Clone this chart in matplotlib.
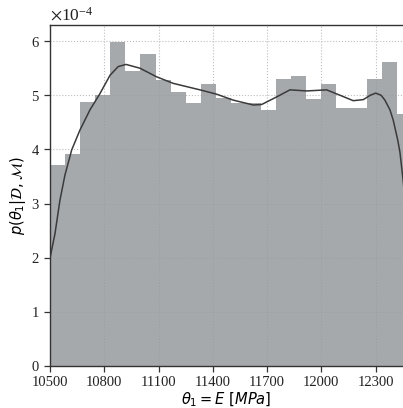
import numpy as np
import matplotlib
matplotlib.use("Agg")
import matplotlib.pyplot as plt

# posterior samples summarised as histogram densities (x 1e-4), 24 bins over the prior 10500-12500
bin_lo = 10500
bin_hi = 12500
n_bins = 24
density = [3.71, 3.91, 4.88, 5.00, 5.99, 5.44, 5.76, 5.28, 5.06, 4.85, 5.21, 4.95,
           4.86, 4.86, 4.73, 5.30, 5.36, 4.93, 5.20, 4.76, 4.77, 5.30, 5.61, 4.65]

# kernel density estimate
kde_x = [10500, 10528, 10555, 10583, 10620, 10666, 10721, 10776, 10832, 10877, 10920,
         10997, 11090, 11181, 11329, 11421, 11513, 11624, 11670, 11753, 11826, 11919,
         12029, 12103, 12176, 12232, 12270, 12300, 12330, 12351, 12379, 12397, 12422,
         12434, 12451, 12470]
kde_y = [1.99, 2.45, 3.06, 3.53, 3.99, 4.36, 4.73, 5.03, 5.37, 5.53, 5.57,
         5.50, 5.34, 5.22, 5.10, 5.02, 4.91, 4.82, 4.83, 4.97, 5.10, 5.08,
         5.10, 5.00, 4.90, 4.92, 5.00, 5.04, 5.00, 4.91, 4.73, 4.54, 4.17,
         3.95, 3.45, 2.80]

xticks = [10500, 10800, 11100, 11400, 11700, 12000, 12300]
yticks = [0, 1, 2, 3, 4, 5, 6]

plt.rcParams['font.family'] = ['Liberation Serif', 'DejaVu Serif']
plt.rcParams['mathtext.fontset'] = 'dejavusans'
plt.rcParams['font.size'] = 10.5

scale = 1e-4
edges = np.linspace(bin_lo, bin_hi, n_bins + 1)
heights = np.array(density) * scale

fig = plt.figure(figsize=(4.03, 4.08), dpi=100)
ax = fig.add_axes([0.124, 0.103, 0.876, 0.836])

ax.set_axisbelow(True)
ax.grid(True, linestyle=':', color='#bdbdbd', linewidth=0.8)
ax.bar(edges[:-1], heights, width=np.diff(edges), align='edge',
       color='#979a9e', alpha=0.85, linewidth=0)
ax.plot(kde_x, np.array(kde_y) * scale, color='#3a3a3a', linewidth=1.1)

ax.set_xlim(10500, 12451)
ax.set_ylim(0, 6.3e-4)
ax.set_xticks(xticks)
ax.set_yticks([t * scale for t in yticks])

ax.ticklabel_format(axis='y', style='sci', scilimits=(0, 0), useMathText=True)
ax.yaxis.get_offset_text().set_math_fontfamily('stix')
ax.yaxis.get_offset_text().set_fontsize(12.5)

ax.spines['right'].set_visible(False)
for s in ['left', 'bottom', 'top']:
    ax.spines[s].set_color('#333333')
    ax.spines[s].set_linewidth(1.0)
ax.tick_params(direction='out', length=4, width=0.9, color='#333333', labelcolor='#222222')

ax.set_xlabel(r'$\theta_1 = E\ [MPa]$', labelpad=1)
ax.set_ylabel(r'$p(\theta_1|\mathcal{D},\mathcal{M})$', labelpad=2)

fig.savefig('out.png', dpi=100)
